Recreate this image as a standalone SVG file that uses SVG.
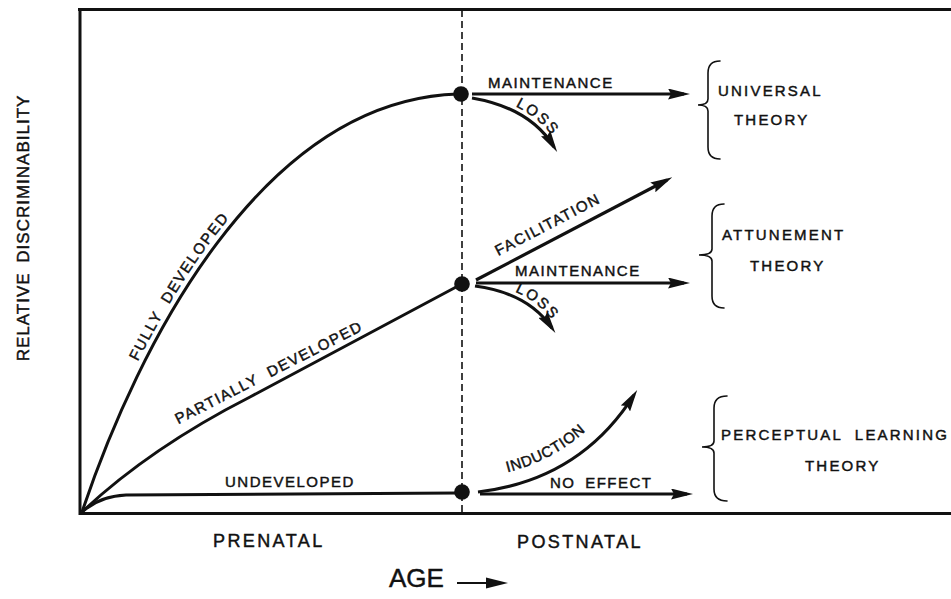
<svg xmlns="http://www.w3.org/2000/svg" xmlns:xlink="http://www.w3.org/1999/xlink" width="951" height="599" viewBox="0 0 951 599">
<style>
  .t { font-family: "Liberation Sans", Arial, sans-serif; fill: #111; stroke: #111; stroke-width: 0.45px; }
  .s { font-size: 15px; letter-spacing: 1.5px; }
  .b { font-size: 15px; letter-spacing: 2.2px; }
  .m { font-size: 18px; letter-spacing: 2.4px; }
  .ln { fill: none; stroke: #111; stroke-width: 3; }
  .ar { fill: none; stroke: #111; stroke-width: 3.2; marker-end: url(#head); }
  .br { fill: none; stroke: #111; stroke-width: 1.6; stroke-linecap: round; }
  .dot { fill: #111; }
</style>
<defs>
  <marker id="head" markerUnits="userSpaceOnUse" markerWidth="22" markerHeight="11" refX="16" refY="5.5" orient="auto">
    <path d="M0,0 L22,5.5 L0,11 L3,5.5 z" fill="#111"/>
  </marker>
  <marker id="head2" markerUnits="userSpaceOnUse" markerWidth="22" markerHeight="12" refX="16" refY="6" orient="auto">
    <path d="M0,0.5 L22,6 L0,11.5 z" fill="#111"/>
  </marker>
</defs>
<rect width="951" height="599" fill="#fff"/>

<g id="frame">
  <path d="M951,9.5 L78,9.5 L80,9.5 L80,513.5 L951,513.5" class="ln" stroke-width="2.6"/>
  <line x1="462" y1="10" x2="462" y2="514" stroke="#111" stroke-width="1.6" stroke-dasharray="7,4"/>
</g>

<g id="connectors">
  <path id="pFully" class="ln" d="M82,512 C 138,345 262,100 458,94"/>
  <path id="pPartial" class="ln" d="M82,512 Q 150,448 250,397 L 458,286"/>
  <path id="pUndev" class="ln" d="M82,512 Q 100,496 126,495 L 458,493"/>
  <path id="pMaint1" class="ar" d="M472,94 L684,94"/>
  <path id="pLoss1" class="ar" d="M472,98 Q 530,108 554,147"/>
  <path id="pFacil" class="ar" d="M476,280 L667,180"/>
  <path id="pMaint2" class="ar" d="M476,283 L684,283"/>
  <path id="pLoss2" class="ar" d="M475,286 Q 528,293 552,328"/>
  <path id="pInduc" class="ar" d="M478,492 Q 580,480 634,395"/>
  <path id="pNoEff" class="ar" d="M480,494 L687,494"/>
</g>

<g id="dots">
  <circle class="dot" cx="461" cy="94" r="7.8"/>
  <circle class="dot" cx="462" cy="284" r="7.8"/>
  <circle class="dot" cx="462" cy="492" r="7.8"/>
</g>

<g id="curve-labels">
  <text class="t s" dy="-6" word-spacing="6"><textPath xlink:href="#pFully" href="#pFully" startOffset="245" text-anchor="middle">FULLY DEVELOPED</textPath></text>
  <text class="t s" x="271" y="377" text-anchor="middle" word-spacing="6" transform="rotate(-27 271 377)">PARTIALLY DEVELOPED</text>
  <text class="t s" x="225" y="487">UNDEVELOPED</text>
</g>

<g id="branch-labels">
  <text class="t s" x="488" y="88">MAINTENANCE</text>
  <text class="t s" dy="-5"><textPath xlink:href="#pLoss1" href="#pLoss1" startOffset="66" text-anchor="middle">LOSS</textPath></text>
  <text class="t s" x="550" y="229" text-anchor="middle" transform="rotate(-27.5 550 229)">FACILITATION</text>
  <text class="t s" x="515" y="276">MAINTENANCE</text>
  <text class="t s" dy="-5"><textPath xlink:href="#pLoss2" href="#pLoss2" startOffset="62" text-anchor="middle">LOSS</textPath></text>
  <text class="t s" dy="-14"><textPath xlink:href="#pInduc" href="#pInduc" startOffset="82" text-anchor="middle">INDUCTION</textPath></text>
  <text class="t s" x="550" y="488" word-spacing="4">NO EFFECT</text>
</g>

<g id="universal">
  <path class="br" d="M720,61 Q708,61 708,73 L708,99 Q708,105 698,105 Q708,105 708,111 L708,147 Q708,159 720,159"/>
  <text class="t b" x="718" y="96">UNIVERSAL</text>
  <text class="t b" x="734" y="125" letter-spacing="1.8">THEORY</text>
</g>

<g id="attunement">
  <path class="br" d="M724,204 Q712,204 712,216 L712,249 Q712,255 699,255 Q712,255 712,261 L712,296 Q712,308 724,308"/>
  <text class="t b" x="722" y="240">ATTUNEMENT</text>
  <text class="t b" x="750" y="271" letter-spacing="1.8">THEORY</text>
</g>

<g id="perceptual">
  <path class="br" d="M727,396 Q714,396 714,408 L714,441 Q714,447 702,447 Q714,447 714,453 L714,489 Q714,501 727,501"/>
  <text class="t b" x="721" y="440" letter-spacing="1.4" word-spacing="6">PERCEPTUAL LEARNING</text>
  <text class="t b" x="805" y="471" letter-spacing="1.8">THEORY</text>
</g>

<g id="axes-labels">
  <text class="t" font-size="17" letter-spacing="1" word-spacing="4" text-anchor="middle" transform="translate(29,228) rotate(-90)">RELATIVE DISCRIMINABILITY</text>
  <text class="t m" x="213" y="547">PRENATAL</text>
  <text class="t m" x="517" y="548">POSTNATAL</text>
  <text class="t" x="389" y="587" font-size="26" stroke-width="0.3">AGE</text>
  <path d="M457,583 L502,583" stroke="#111" stroke-width="2.2" fill="none" marker-end="url(#head2)"/>
</g>
</svg>
